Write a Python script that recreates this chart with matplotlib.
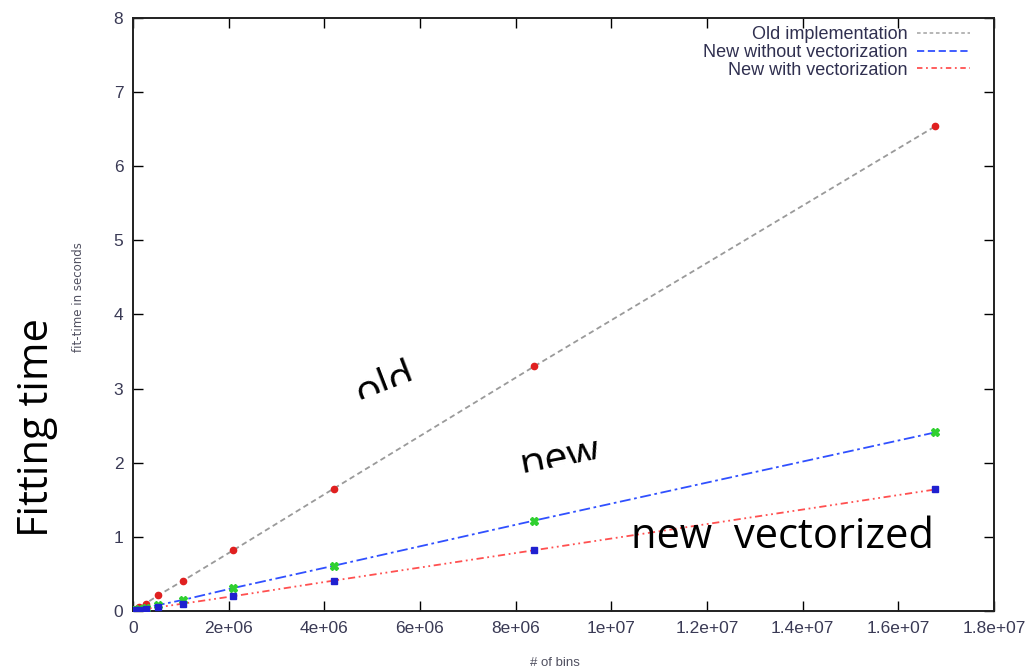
import numpy as np
import matplotlib
matplotlib.use("Agg")
import matplotlib.pyplot as plt
from matplotlib.lines import Line2D
from matplotlib.patches import Polygon
from matplotlib.transforms import IdentityTransform

# Data
bins = [16384, 32768, 65536, 131072, 262144, 524288, 1048576, 2097152, 4194304, 8388608, 16777216]
old_impl = [0.01, 0.02, 0.03, 0.05, 0.10, 0.21, 0.41, 0.82, 1.65, 3.30, 6.54]
new_novec = [0.005, 0.01, 0.02, 0.03, 0.04, 0.08, 0.15, 0.31, 0.61, 1.22, 2.41]
new_vec = [0.003, 0.006, 0.01, 0.02, 0.03, 0.05, 0.10, 0.20, 0.41, 0.82, 1.64]
series_names = ["Old implementation", "New without vectorization", "New with vectorization"]
xticks = [0, 2e6, 4e6, 6e6, 8e6, 1e7, 1.2e7, 1.4e7, 1.6e7, 1.8e7]
xtick_labels = ["0", "2e+06", "4e+06", "6e+06", "8e+06", "1e+07", "1.2e+07", "1.4e+07", "1.6e+07", "1.8e+07"]
yticks = [0, 1, 2, 3, 4, 5, 6, 7, 8]

W, H = 1031, 671
fig = plt.figure(figsize=(W / 100, H / 100), dpi=100)
ax = fig.add_axes([0.129, 0.0894, 0.835, 0.8838])

ax.plot(bins, old_impl, color="#9a9a9a", lw=1.3, ls=(0, (3, 2)), zorder=2)
ax.plot(bins, old_impl, ls="none", marker="o", ms=4.5, color="#e02020", zorder=3)
ax.plot(bins, new_novec, color="#3050ff", lw=1.3, ls=(0, (6, 2, 1.5, 2)), zorder=2)
ax.plot(bins, new_novec, ls="none", marker="X", ms=6, color="#30d030", zorder=3)
ax.plot(bins, new_vec, color="#ff5050", lw=1.3, ls=(0, (4, 2, 1, 2, 1, 2)), zorder=2)
ax.plot(bins, new_vec, ls="none", marker="s", ms=5, color="#2020d0", zorder=4)

ax.set_xlim(0, 1.8e7)
ax.set_ylim(0, 8)
ax.set_xticks(xticks)
ax.set_xticklabels(xtick_labels)
ax.set_yticks(yticks)
ax.tick_params(direction="in", top=True, right=True, length=7, width=1,
               labelsize=12.5, labelcolor="#3a3a55", pad=7)
for lab in ax.get_xticklabels() + ax.get_yticklabels():
    lab.set_family("Liberation Sans")
for s in ax.spines.values():
    s.set_linewidth(1.4)
    s.set_color("#202020")

ax.set_xlabel("# of bins", fontsize=9.5, color="#505060", family="Liberation Sans")
ax.xaxis.set_label_coords(0.49, -0.078)
ax.set_ylabel("fit-time in seconds", fontsize=8.5, color="#505060")
ax.yaxis.set_label_coords(-0.056, 0.53)

handles = [
    Line2D([], [], color="#b0b0b0", lw=1.3, ls=(0, (2, 1.5))),
    Line2D([], [], color="#3050ff", lw=1.3, ls=(0, (4, 2))),
    Line2D([], [], color="#ff5050", lw=1.3, ls=(0, (3, 2, 1, 2))),
]
leg = ax.legend(handles, series_names, loc="upper right", frameon=False,
                bbox_to_anchor=(0.972, 0.9865), borderpad=0, borderaxespad=0,
                markerfirst=False, prop={"family": "Liberation Sans", "size": 13},
                handlelength=2.9, handletextpad=0.55, labelspacing=0.05)
for t in leg.get_texts():
    t.set_color("#303050")
    t.set_ha("right")
leg._legend_box.align = "right"

# Annotations (with the lower part of "old"/"new" cut off as in the reference)
def cut_text(s, bx, by, angle, size, cut_h, length):
    fig.text(bx / W, 1 - by / H, s, fontsize=size, family="Open Sans",
             rotation=angle, rotation_mode="anchor", ha="left", va="baseline",
             zorder=5)
    a = np.deg2rad(angle)
    u = np.array([np.cos(a), np.sin(a)])
    n = np.array([-np.sin(a), np.cos(a)])
    b = np.array([bx, H - by])
    pts = [b + n * cut_h - u * 12, b + n * cut_h + u * (length + 12),
           b - n * 25 + u * (length + 12), b - n * 25 - u * 12]
    fig.patches.append(Polygon(pts, closed=True, transform=IdentityTransform(),
                               facecolor="white", edgecolor="none", zorder=6))

cut_text("old", 362, 407, 21, 30, 7, 62)
cut_text("new", 522, 478, 11, 30, 4.5, 82)

fig.text(631 / W, 1 - 548 / H, "new  vectorized", fontsize=30, family="Open Sans",
         ha="left", va="baseline")
fig.text(0.036, 1 - 428 / H, "Fitting time", fontsize=30, family="Open Sans",
         rotation=90, ha="center", va="center")

fig.savefig("out.png", dpi=100)
